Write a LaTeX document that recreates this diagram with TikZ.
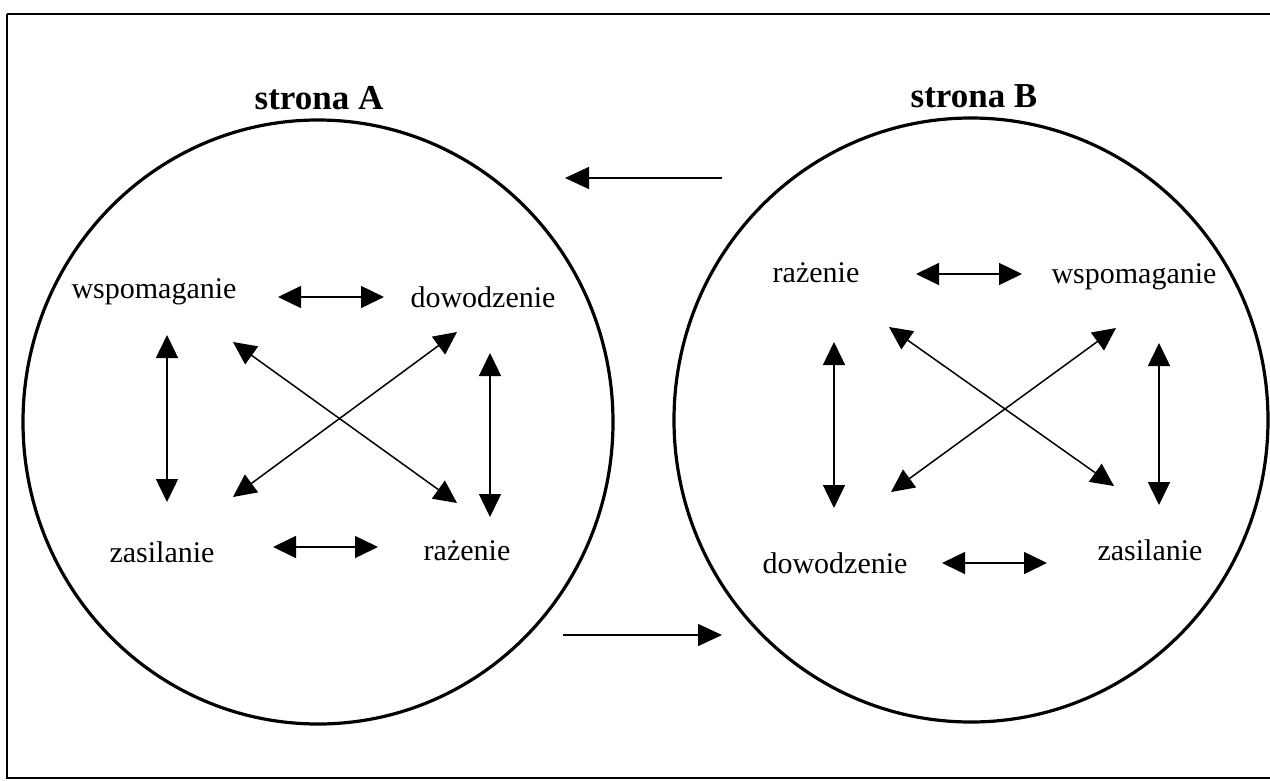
\documentclass[tikz,border=0pt]{standalone}
\usepackage{fontspec}
\setmainfont{Liberation Serif}
\usetikzlibrary{arrows.meta}
\begin{document}
\begin{tikzpicture}[x=1pt,y=-1pt,
  lbl/.style={font=\fontsize{30}{30}\selectfont, inner sep=0pt, anchor=base},
  ttl/.style={font=\fontsize{35}{35}\selectfont\bfseries, inner sep=0pt, anchor=base},
  ring/.style={line width=3.2pt},
  frame/.style={line width=1.5pt},
  both/.style={line width=1.5pt, {Triangle[length=23pt,width=22pt]}-{Triangle[length=23pt,width=22pt]}},
  one/.style={line width=1.5pt, -{Triangle[length=24pt,width=22pt]}}]
\useasboundingbox (0,0) rectangle (1270,780);
\fill[white] (0,0) rectangle (1270,780);
\draw[frame] (7,14) -- (1285,14) (7,14) -- (7,778) -- (1285,778);

% side A
\draw[ring] (318,422) ellipse [x radius=295, y radius=302];
\node[ttl] (tA) at (319,109) {strona A};
\node[lbl] (wA) at (154,298) {wspomaganie};
\node[lbl] (dA) at (483,307) {dowodzenie};
\node[lbl] (zA) at (162,562) {zasilanie};
\node[lbl] (rA) at (467,560) {rażenie};
\coordinate (a1) at (278,297); \coordinate (a2) at (384,297);
\coordinate (a3) at (167,335); \coordinate (a4) at (167,502);
\coordinate (a5) at (490,353); \coordinate (a6) at (490,517);
\coordinate (a7) at (233,342); \coordinate (a8) at (457,503);
\coordinate (a9) at (457,332); \coordinate (a10) at (233,497);
\coordinate (a11) at (273,547); \coordinate (a12) at (378,547);
\draw[both] (a1) -- (a2);
\draw[both] (a3) -- (a4);
\draw[both] (a5) -- (a6);
\draw[both] (a7) -- (a8);
\draw[both] (a9) -- (a10);
\draw[both] (a11) -- (a12);

% side B
\draw[ring] (971,420) ellipse [x radius=297, y radius=302];
\node[ttl] (tB) at (974,107) {strona B};
\node[lbl] (rB) at (816,282) {rażenie};
\node[lbl] (wB) at (1134,283) {wspomaganie};
\node[lbl] (dB) at (835,573) {dowodzenie};
\node[lbl] (zB) at (1150,560) {zasilanie};
\coordinate (b1) at (916,274); \coordinate (b2) at (1022,274);
\coordinate (b3) at (834,342); \coordinate (b4) at (834,508);
\coordinate (b5) at (1159,343); \coordinate (b6) at (1159,505);
\coordinate (b7) at (889,327); \coordinate (b8) at (1114,486);
\coordinate (b9) at (1116,328); \coordinate (b10) at (891,492);
\coordinate (b11) at (942,563); \coordinate (b12) at (1047,563);
\draw[both] (b1) -- (b2);
\draw[both] (b3) -- (b4);
\draw[both] (b5) -- (b6);
\draw[both] (b7) -- (b8);
\draw[both] (b9) -- (b10);
\draw[both] (b11) -- (b12);

% between
\coordinate (t1) at (722,178); \coordinate (t2) at (565,178);
\coordinate (u1) at (563,635); \coordinate (u2) at (722,635);
\draw[one] (t1) -- (t2);
\draw[one] (u1) -- (u2);
\end{tikzpicture}
\end{document}
